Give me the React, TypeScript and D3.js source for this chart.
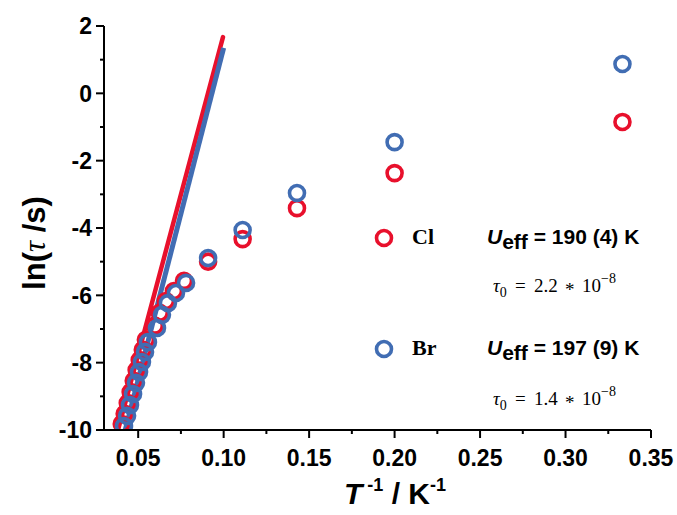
import React from "react";
import * as d3 from "d3";

const xTicks = [0.05, 0.1, 0.15, 0.2, 0.25, 0.3, 0.35];
const xTickLabels = ["0.05", "0.10", "0.15", "0.20", "0.25", "0.30", "0.35"];
const yTicks = [2, 0, -2, -4, -6, -8, -10];

const clX = [0.3333, 0.2, 0.1429, 0.1111, 0.0909, 0.0768, 0.0709, 0.0662, 0.0626, 0.0597, 0.0545, 0.0527, 0.0509, 0.0491, 0.0474, 0.0456, 0.0439, 0.0421, 0.0404];
const clY = [-0.85, -2.37, -3.41, -4.33, -5.0, -5.57, -5.87, -6.17, -6.52, -6.9, -7.32, -7.62, -7.92, -8.22, -8.54, -8.87, -9.2, -9.52, -9.82];

const brX = [0.3333, 0.2, 0.1429, 0.1111, 0.0909, 0.078, 0.0721, 0.0674, 0.0639, 0.061, 0.0557, 0.054, 0.0522, 0.0505, 0.0487, 0.047, 0.0452, 0.0435, 0.0417];
const brY = [0.87, -1.45, -2.96, -4.06, -4.89, -5.63, -5.93, -6.23, -6.58, -6.97, -7.39, -7.68, -7.98, -8.28, -8.6, -8.93, -9.26, -9.58, -9.88];

const clFitX = [0.0382, 0.0996];
const clFitY = [-10, 1.67];
const brFitX = [0.0424, 0.1];
const brFitY = [-10, 1.35];

const RED = "#e8102c";
const BLUE = "#416db3";

export default function App() {
  const W = 677, H = 515;
  const x = d3.scaleLinear().domain([0.03, 0.35]).range([104, 651]);
  const y = d3.scaleLinear().domain([-10, 2]).range([430, 26]);
  const minorX = d3.range(0.075, 0.35, 0.05);
  const minorY = d3.range(-9, 2, 2);
  const line = d3.line<[number, number]>().x(d => x(d[0])).y(d => y(d[1]));
  const sans = "'Liberation Sans', Arial, sans-serif";
  const serif = "'Liberation Serif', 'Times New Roman', serif";
  const clFit = clFitX.map((v, i) => [v, clFitY[i]] as [number, number]);
  const brFit = brFitX.map((v, i) => [v, brFitY[i]] as [number, number]);
  const r = 7.5, sw = 3.6;
  const tau = (yy: number, val: string) => (
    <text y={yy} fontFamily={serif} fontSize={19}>
      <tspan x={493} fontStyle="italic">τ</tspan>
      <tspan dy={5} fontSize={14}>0</tspan>
      <tspan x={515} dy={-5}>=</tspan>
      <tspan x={534}>{val}</tspan>
      <tspan x={565} dy={4}>*</tspan>
      <tspan x={582} dy={-4}>10</tspan>
      <tspan dy={-9} fontSize={14}>−8</tspan>
    </text>
  );
  return (
    <svg width={W} height={H} style={{ position: "absolute", left: 0, top: 0, background: "#fff" }}>
      <defs>
        <clipPath id="plot">
          <rect x={104} y={0} width={560} height={430} />
        </clipPath>
      </defs>
      <g clipPath="url(#plot)">
        <path d={line(clFit) || ""} stroke={RED} strokeWidth={4.5} fill="none" strokeLinecap="round" />
        <path d={line(brFit) || ""} stroke={BLUE} strokeWidth={5} fill="none" strokeLinecap="butt" />
        {clX.map((v, i) => (
          <circle key={"c" + i} cx={x(v)} cy={y(clY[i])} r={r} fill="none" stroke={RED} strokeWidth={sw} />
        ))}
        {brX.map((v, i) => (
          <circle key={"b" + i} cx={x(v)} cy={y(brY[i])} r={r} fill="none" stroke={BLUE} strokeWidth={sw} />
        ))}
      </g>
      <line x1={104} x2={104} y1={26} y2={431} stroke="#000" strokeWidth={2} />
      <line x1={103} x2={651} y1={430} y2={430} stroke="#000" strokeWidth={2} />
      {yTicks.map(t => (
        <g key={"yt" + t}>
          <line x1={96} x2={104} y1={y(t)} y2={y(t)} stroke="#000" strokeWidth={2} />
          <text x={92} y={y(t)} dy="0.36em" textAnchor="end" fontFamily={sans} fontWeight="bold" fontSize={23}>{t}</text>
        </g>
      ))}
      {minorY.map(t => (
        <line key={"ym" + t} x1={100} x2={104} y1={y(t)} y2={y(t)} stroke="#000" strokeWidth={2} />
      ))}
      {xTicks.map((t, i) => (
        <g key={"xt" + t}>
          <line x1={x(t)} x2={x(t)} y1={430} y2={438} stroke="#000" strokeWidth={2} />
          <text x={x(t)} y={466} textAnchor="middle" fontFamily={sans} fontWeight="bold" fontSize={23}>{xTickLabels[i]}</text>
        </g>
      ))}
      {minorX.map(t => (
        <line key={"xm" + t} x1={x(t)} x2={x(t)} y1={430} y2={434} stroke="#000" strokeWidth={2} />
      ))}
      <text transform="translate(45,243) rotate(-90)" textAnchor="middle" fontFamily={sans} fontWeight="bold" fontSize={31}>
        ln(<tspan fontFamily={serif} fontStyle="italic" fontWeight="normal">τ</tspan> /s)
      </text>
      <text x={395} y={504} textAnchor="middle" fontFamily={sans} fontWeight="bold" fontSize={30}>
        <tspan fontStyle="italic">T</tspan>
        <tspan fontSize={18} dy={-13}> -1</tspan>
        <tspan dy={13}> / K</tspan>
        <tspan fontSize={18} dy={-13}>-1</tspan>
      </text>
      <circle cx={384} cy={238} r={r} fill="none" stroke={RED} strokeWidth={sw} />
      <text x={412} y={244} fontFamily={serif} fontWeight="bold" fontSize={22}>Cl</text>
      <text x={487} y={244} fontFamily={sans} fontWeight="bold" fontSize={21}>
        <tspan fontStyle="italic">U</tspan>
        <tspan dy={5}>eff</tspan>
        <tspan dy={-5}> = 190 (4) K</tspan>
      </text>
      {tau(292, "2.2")}
      <circle cx={384} cy={349} r={r} fill="none" stroke={BLUE} strokeWidth={sw} />
      <text x={412} y={355} fontFamily={serif} fontWeight="bold" fontSize={22}>Br</text>
      <text x={487} y={355} fontFamily={sans} fontWeight="bold" fontSize={21}>
        <tspan fontStyle="italic">U</tspan>
        <tspan dy={5}>eff</tspan>
        <tspan dy={-5}> = 197 (9) K</tspan>
      </text>
      {tau(405, "1.4")}
    </svg>
  );
}
